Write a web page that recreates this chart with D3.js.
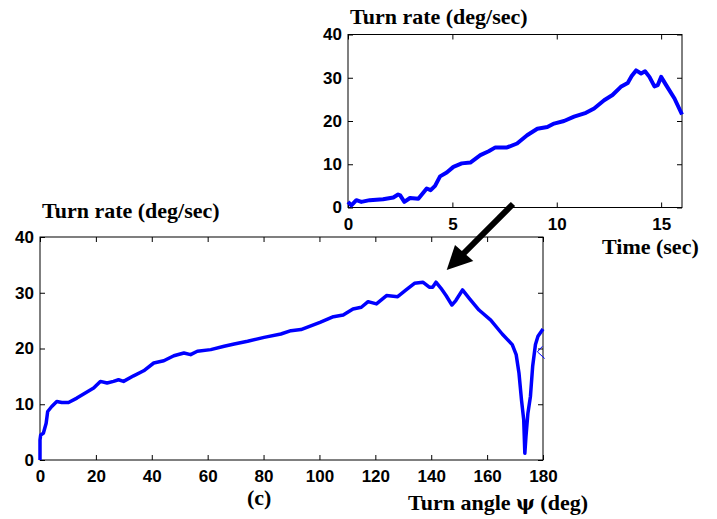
<!DOCTYPE html>
<html>
<head>
<meta charset="utf-8">
<script src="https://cdn.jsdelivr.net/npm/d3@7"></script>
<style>
  body { margin: 0; background: #fff; }
  .tick text { font-family: "Liberation Sans", Arial, sans-serif; font-size: 17px; font-weight: bold; fill: #000; }
  .lbl { font-family: "Liberation Serif", "Times New Roman", serif; font-size: 22px; font-weight: bold; fill: #000; }
</style>
</head>
<body>
<div id="chart"></div>
<script>
// Top inset: turn rate vs time
const topTime = [0, 0.16, 0.4, 0.64, 1.04, 1.68, 2.17, 2.4, 2.5, 2.7, 2.97, 3.37, 3.77, 3.96, 4.17, 4.41, 4.73, 5.05, 5.45, 5.86,
  6.34, 6.74, 7.06, 7.62, 8.1, 8.58, 9.07, 9.55, 9.87, 10.35, 10.83, 11.4, 11.79, 12.27, 12.67, 13.07, 13.4, 13.59, 13.8,
  14.04, 14.23, 14.44, 14.68, 14.84, 15.0, 15.24, 15.64, 16.0]
const topRate = [1.3, 0.5, 1.7, 1.3, 1.7, 1.9, 2.3, 3.0, 2.8, 1.3, 2.2, 2.0, 4.4, 4.0, 5.0, 7.2, 8.1, 9.4, 10.2, 10.4,
  12.1, 13.0, 13.9, 13.9, 14.8, 16.7, 18.2, 18.6, 19.4, 20.0, 21.0, 21.9, 22.9, 24.8, 26.0, 27.9, 28.8, 30.4, 31.7,
  31.0, 31.5, 30.2, 28.0, 28.3, 30.2, 28.3, 25.2, 21.5]
const topXTicks = [0, 5, 10, 15]
const topYTicks = [0, 10, 20, 30, 40]

// Main plot: turn rate vs turn angle
const angle = [0, 0, 0.24, 1.2, 2.2, 2.75, 4.2, 6, 7.8, 10.2, 13.2, 16.8, 19.2, 21.6, 24, 26.3, 28.1, 29.9, 33.5, 37.1,
  40.7, 44.3, 47.9, 51.5, 53.9, 56.3, 61.1, 65.9, 69.5, 74.3, 80.2, 86.2, 89.8, 93.4, 100.2, 105, 108.5, 112, 115,
  117.4, 120.4, 124, 128, 131, 134, 137, 139.3, 140.5, 141.7, 143.5, 145.3, 147.4, 148.8, 151.2, 153.6, 157.1,
  161.3, 165.4, 169, 170.4, 171.4, 172.3, 173.1, 173.5, 173.9, 174.6, 175.5, 176.3, 177.3, 178.2, 180]
const rate = [0, 3.6, 4.5, 4.8, 6.6, 8.7, 9.6, 10.5, 10.3, 10.3, 11.1, 12.2, 12.9, 14.1, 13.8, 14.1, 14.4, 14.1, 15.1, 16.0,
  17.4, 17.8, 18.7, 19.2, 18.9, 19.5, 19.8, 20.4, 20.8, 21.3, 22.0, 22.6, 23.2, 23.4, 24.7, 25.7, 26.0, 27.1, 27.4,
  28.4, 28.0, 29.5, 29.3, 30.5, 31.7, 31.9, 31.0, 31.0, 31.9, 30.8, 29.5, 27.8, 28.6, 30.5, 29.0, 26.9,
  25.1, 22.6, 20.7, 18.9, 15.6, 10.8, 7.2, 1.2, 4.2, 8.4, 11.4, 16.8, 20.7, 22.2, 23.5]
// small stray mark near the end of the main curve
const markAngle = [179.8, 178.0, 180.6]
const markRate = [20.4, 19.4, 18.2]
const mainXTicks = [0, 20, 40, 60, 80, 100, 120, 140, 160, 180]
const mainYTicks = [0, 10, 20, 30, 40]

const width = 717, height = 519

let svg = d3.select('#chart')
  .append('svg')
  .attr('width', width)
  .attr('height', height)
  .style('background', '#fff')

// draws one boxed panel
const panel = (opt) => {
  const x = d3.scaleLinear().domain(opt.xDomain).range([opt.left, opt.right])
  const y = d3.scaleLinear().domain(opt.yDomain).range([opt.bottom, opt.top])
  const g = svg.append('g')

  g.append('rect')
    .attr('x', opt.left).attr('y', opt.top)
    .attr('width', opt.right - opt.left).attr('height', opt.bottom - opt.top)
    .attr('fill', 'none').attr('stroke', '#000').attr('stroke-width', 1)

  const ax = (axis, tx, ty, labels) => {
    const a = g.append('g')
      .attr('transform', `translate(${tx},${ty})`)
      .call(axis.tickSizeInner(-5).tickSizeOuter(0))
    a.select('.domain').remove()
    if (!labels) a.selectAll('text').remove()
    return a
  }
  ax(d3.axisBottom(x).tickValues(opt.xTicks).tickPadding(10), 0, opt.bottom, true)
  ax(d3.axisTop(x).tickValues(opt.xTicks), 0, opt.top, false)
  ax(d3.axisLeft(y).tickValues(opt.yTicks).tickPadding(6), opt.left, 0, true)
  ax(d3.axisRight(y).tickValues(opt.yTicks), opt.right, 0, false)

  const line = d3.line()
    .x(d => x(d[0]))
    .y(d => y(d[1]))

  g.append('path')
    .datum(opt.xs.map((v, i) => [v, opt.ys[i]]))
    .attr('d', line)
    .attr('fill', 'none')
    .attr('stroke', '#0000ff')
    .attr('stroke-width', opt.lw)
    .attr('stroke-linejoin', 'round')

  if (opt.mx) {
    g.append('path')
      .datum(opt.mx.map((v, i) => [v, opt.my[i]]))
      .attr('d', line)
      .attr('fill', 'none')
      .attr('stroke', '#0000ff')
      .attr('stroke-width', 1)
  }
}

panel({
  xDomain: [0, 16], yDomain: [0, 40],
  left: 348, right: 682, top: 34.5, bottom: 207.5,
  xTicks: topXTicks, yTicks: topYTicks,
  xs: topTime, ys: topRate, lw: 4
})

panel({
  xDomain: [0, 180], yDomain: [0, 40],
  left: 40, right: 543, top: 237, bottom: 460,
  xTicks: mainXTicks, yTicks: mainYTicks,
  xs: angle, ys: rate, lw: 3.5,
  mx: markAngle, my: markRate
})

// labels
const label = (txt, x, y) => {
  return svg.append('text').attr('class', 'lbl').attr('x', x).attr('y', y).text(txt)
}
label('Turn rate (deg/sec)', 350, 24)
label('Time (sec)', 602, 254)
label('Turn rate (deg/sec)', 42, 218)
label('(c)', 247, 505)
const xl = label('Turn angle ', 408, 510)
xl.append('tspan').style('font-family', '"DejaVu Serif", serif').style('font-size', '20px').text('\u03c8')
xl.append('tspan').text(' (deg)')

// arrow from inset to main plot
svg.append('line')
  .attr('x1', 513).attr('y1', 204)
  .attr('x2', 462).attr('y2', 255)
  .attr('stroke', '#000')
  .attr('stroke-width', 6)
svg.append('polygon')
  .attr('points', '446.7,270 455,245 473.3,261')
  .attr('fill', '#000')
</script>
</body>
</html>
